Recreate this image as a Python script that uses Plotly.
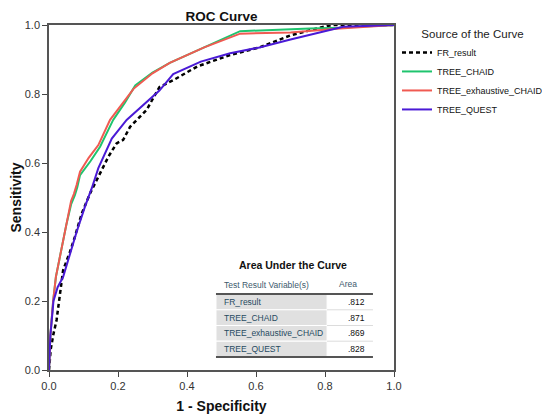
import plotly.graph_objects as go

# ---- data ----
fr_x = [0, 0.005, 0.012, 0.022, 0.041, 0.06, 0.075, 0.095, 0.119, 0.143, 0.172, 0.196, 0.215, 0.235,
        0.254, 0.283, 0.32, 0.36, 0.43, 0.525, 0.61, 0.7, 0.776, 0.82, 1.0]
fr_y = [0, 0.06, 0.1, 0.145, 0.29, 0.34, 0.386, 0.454, 0.512, 0.56, 0.618, 0.657, 0.667, 0.705,
        0.725, 0.754, 0.82, 0.84, 0.88, 0.913, 0.935, 0.97, 0.99, 1.0, 1.0]

chaid_x = [0, 0.004, 0.012, 0.02, 0.03, 0.041, 0.05, 0.064, 0.075, 0.082, 0.09, 0.12, 0.148, 0.186,
           0.22, 0.25, 0.3, 0.35, 0.45, 0.554, 0.756, 0.84, 1.0]
chaid_y = [0, 0.1, 0.2, 0.27, 0.32, 0.38, 0.42, 0.48, 0.507, 0.53, 0.565, 0.605, 0.647, 0.725,
           0.775, 0.825, 0.862, 0.89, 0.935, 0.982, 0.99, 0.992, 1.0]

exh_x = [0, 0.004, 0.012, 0.02, 0.03, 0.041, 0.05, 0.064, 0.072, 0.08, 0.09, 0.115, 0.143, 0.177,
         0.21, 0.245, 0.3, 0.35, 0.45, 0.554, 0.7, 0.843, 1.0]
exh_y = [0, 0.1, 0.2, 0.27, 0.32, 0.38, 0.42, 0.49, 0.51, 0.536, 0.575, 0.615, 0.652, 0.725,
         0.77, 0.815, 0.86, 0.89, 0.935, 0.975, 0.978, 0.99, 1.0]

quest_x = [0, 0.004, 0.013, 0.025, 0.041, 0.064, 0.08, 0.104, 0.124, 0.143, 0.182, 0.225, 0.27,
           0.32, 0.36, 0.44, 0.525, 0.61, 0.7, 0.853, 1.0]
quest_y = [0, 0.1, 0.2, 0.24, 0.27, 0.348, 0.4, 0.473, 0.527, 0.585, 0.671, 0.725, 0.765,
           0.81, 0.858, 0.894, 0.918, 0.935, 0.958, 0.995, 1.0]

series_names = ["FR_result", "TREE_CHAID", "TREE_exhaustive_CHAID", "TREE_QUEST"]
auc_values = [".812", ".871", ".869", ".828"]
tick_vals = [0.0, 0.2, 0.4, 0.6, 0.8, 1.0]
tick_text = ["0.0", "0.2", "0.4", "0.6", "0.8", "1.0"]

FONT = "Liberation Sans, Arial, sans-serif"

fig = go.Figure()
fig.add_trace(go.Scatter(x=fr_x, y=fr_y, mode="lines", name=series_names[0],
                         line=dict(color="#000000", width=2.5, dash="4px,3px")))
fig.add_trace(go.Scatter(x=chaid_x, y=chaid_y, mode="lines", name=series_names[1],
                         line=dict(color="#1fc46e", width=2)))
fig.add_trace(go.Scatter(x=exh_x, y=exh_y, mode="lines", name=series_names[2],
                         line=dict(color="#f05a52", width=2)))
fig.add_trace(go.Scatter(x=quest_x, y=quest_y, mode="lines", name=series_names[3],
                         line=dict(color="#4a1ad6", width=2)))

axis_common = dict(range=[0, 1], tickvals=tick_vals, ticktext=tick_text, ticks="outside",
                   ticklen=5, tickwidth=1.2, tickcolor="#444", showline=True, linecolor="#555",
                   linewidth=1.5, mirror=True, showgrid=False, zeroline=False, automargin=False,
                   tickfont=dict(family=FONT, size=11, color="#333"))

fig.update_xaxes(**axis_common,
                 title=dict(text="<b>1 - Specificity</b>", font=dict(family=FONT, size=14, color="#111"),
                            standoff=10))
fig.update_yaxes(**axis_common,
                 title=dict(text="<b>Sensitivity</b>", font=dict(family=FONT, size=14, color="#111"),
                            standoff=2))

# ---- Area Under the Curve table ----
shapes = []
annotations = []
xl, xm, xr = 0.484, 0.806, 0.939
y_top = 0.220
row_h = 0.0455
for i, (nm, val) in enumerate(zip(series_names, auc_values)):
    y1 = y_top - i * row_h
    y0 = y1 - row_h
    shapes.append(dict(type="rect", xref="x", yref="y", x0=xl, x1=xm, y0=y0, y1=y1,
                       fillcolor="#e0e0e0", line=dict(color="#ffffff", width=1), layer="below"))
    if i > 0:
        shapes.append(dict(type="line", xref="x", yref="y", x0=xm, x1=xr, y0=y1, y1=y1,
                           line=dict(color="#dcdcdc", width=1)))
    yc = (y0 + y1) / 2
    annotations.append(dict(xref="x", yref="y", x=0.501, y=yc, text=nm, showarrow=False,
                            xanchor="left", yanchor="middle",
                            font=dict(family=FONT, size=8.5, color="#264a60")))
    annotations.append(dict(xref="x", yref="y", x=0.921, y=yc, text=val, showarrow=False,
                            xanchor="right", yanchor="middle",
                            font=dict(family=FONT, size=8.5, color="#111")))
y_bot = y_top - len(series_names) * row_h
shapes.append(dict(type="line", xref="x", yref="y", x0=xl, x1=xr, y0=y_top, y1=y_top,
                   line=dict(color="#555", width=2)))
shapes.append(dict(type="line", xref="x", yref="y", x0=xl, x1=xr, y0=y_bot, y1=y_bot,
                   line=dict(color="#555", width=2)))
annotations.append(dict(xref="x", yref="y", x=0.501, y=0.246, text="Test Result Variable(s)",
                        showarrow=False, xanchor="left", yanchor="middle",
                        font=dict(family=FONT, size=8.5, color="#3d5a6e")))
annotations.append(dict(xref="x", yref="y", x=0.866, y=0.248, text="Area",
                        showarrow=False, xanchor="center", yanchor="middle",
                        font=dict(family=FONT, size=8.5, color="#3d5a6e")))
annotations.append(dict(xref="x", yref="y", x=0.707, y=0.304, text="<b>Area Under the Curve</b>",
                        showarrow=False, xanchor="center", yanchor="middle",
                        font=dict(family=FONT, size=10.5, color="#111")))

fig.update_layout(
    width=550, height=420,
    margin=dict(l=41, r=164, t=17, b=58, autoexpand=False),
    paper_bgcolor="#ffffff", plot_bgcolor="#ffffff",
    title=dict(text="<b>ROC Curve</b>", x=0.5, xref="paper", xanchor="center",
               y=1 - 8 / 420, yanchor="middle", automargin=False,
               font=dict(family=FONT, size=13.5, color="#111")),
    legend=dict(xref="container", yref="container", x=389 / 550, xanchor="left",
                y=1 - 15 / 420, yanchor="top", bgcolor="rgba(0,0,0,0)",
                font=dict(family=FONT, size=9, color="#111"), itemwidth=30,
                title=dict(text="Source of the Curve", side="top center",
                           font=dict(family=FONT, size=11.5, color="#222"))),
    shapes=shapes, annotations=annotations,
    showlegend=True,
)

fig.write_html("out.html")
